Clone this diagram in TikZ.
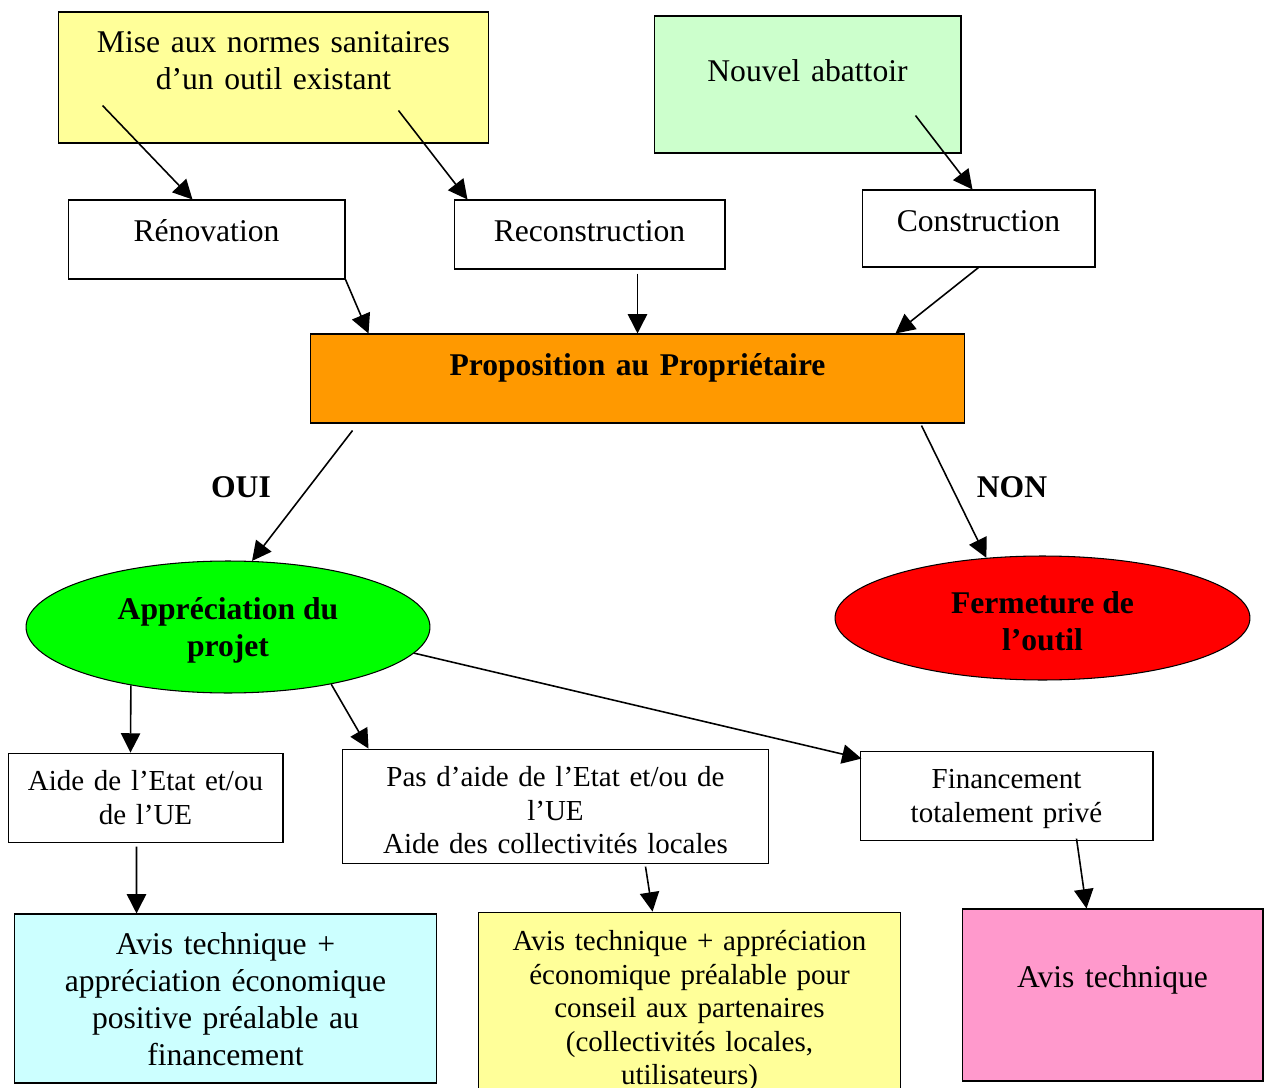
\documentclass[tikz,border=0pt]{standalone}
\usepackage{fontspec}
\setmainfont{Liberation Serif}
\usetikzlibrary{shapes.geometric,arrows.meta,calc}
\definecolor{paleyellow}{HTML}{FFFF99}
\definecolor{palegreen}{HTML}{CCFFCC}
\definecolor{propoorange}{HTML}{FF9900}
\definecolor{brightgreen}{HTML}{00FF00}
\definecolor{brightred}{HTML}{FF0000}
\definecolor{palecyan}{HTML}{CCFFFF}
\definecolor{palepink}{HTML}{FF99CC}
\begin{document}
\begin{tikzpicture}
	[x=0.02cm,y=-0.02cm,
	boxstyle/.style={draw=black,line width=0.6pt,inner sep=0pt,anchor=base,align=center,
font=\fontsize{18}{21}\selectfont},
	smallbox/.style={boxstyle,font=\fontsize{16.5}{19.1}\selectfont},
	ovalstyle/.style={ellipse,draw=black,line width=0.6pt,inner sep=0pt,align=center,
text height=1.32cm,font=\fontsize{18}{21}\selectfont\bfseries},
	textstyle/.style={inner sep=0pt,font=\fontsize{18}{21}\selectfont\bfseries},
	edgestyle/.style={-{Triangle[length=11pt,width=11pt]},line width=0.9pt}]
	\useasboundingbox (0,0) rectangle (1269,1088);
	\node at (273.5,52.5) (mise) [boxstyle,fill=paleyellow,text width=8.62cm,text height=0.81cm,text depth=1.81cm] {Mise aux normes sanitaires\\d’un outil existant};
	\node at (807.5,81.5) (nouvel) [boxstyle,fill=palegreen,text width=6.14cm,text height=1.31cm,text depth=1.43cm] {Nouvel abattoir};
	\node at (206.5,241.5) (renov) [boxstyle,text width=5.54cm,text height=0.83cm,text depth=0.75cm] {Rénovation};
	\node at (589.5,241.5) (recons) [boxstyle,text width=5.42cm,text height=0.83cm,text depth=0.55cm] {Reconstruction};
	\node at (978.5,231.5) (constr) [boxstyle,text width=4.66cm,text height=0.83cm,text depth=0.71cm] {Construction};
	\node at (637.5,375.5) (propo) [boxstyle,fill=propoorange,font=\fontsize{18}{21}\selectfont\bfseries,text width=13.1cm,text height=0.83cm,text depth=0.95cm] {Proposition au Propriétaire};
	\node at (241,487) (oui) [textstyle] {OUI};
	\node at (1012,487) (non) [textstyle] {NON};
	\node at (228,627) (appre) [ovalstyle,fill=brightgreen,minimum width=8.08cm,minimum height=2.64cm] {Appréciation du\\projet};
	\node at (1042.5,618) (ferme) [ovalstyle,fill=brightred,minimum width=8.3cm,minimum height=2.48cm] {Fermeture de\\l’outil};
	\node at (145.5,790.6) (aide) [smallbox,text width=5.5cm,text height=0.75cm,text depth=1.03cm] {Aide de l’Etat et/ou\\de l’UE};
	\node at (555.5,786.6) (pasaide) [smallbox,text width=8.54cm,text height=0.75cm,text depth=1.53cm] {Pas d’aide de l’Etat et/ou de\\l’UE\\Aide des collectivités locales};
	\node at (1006.5,788.6) (finan) [smallbox,text width=5.86cm,text height=0.75cm,text depth=1.03cm] {Financement\\totalement privé};
	\node at (225.5,954.5) (avis1) [boxstyle,fill=palecyan,text width=8.46cm,text height=0.81cm,text depth=2.57cm] {Avis technique +\\appréciation économique\\positive préalable au\\financement};
	\node at (689.5,950.6) (avis2) [smallbox,fill=paleyellow,text width=8.46cm,text height=0.77cm,text depth=2.99cm] {Avis technique + appréciation\\économique préalable pour\\conseil aux partenaires\\(collectivités locales,\\utilisateurs)};
	\node at (1112.5,987.5) (avis3) [boxstyle,fill=palepink,text width=6.02cm,text height=1.57cm,text depth=1.87cm] {Avis technique};
	\draw[edgestyle] ($(mise.south west)+(45,-38)$) -- ($(renov.north west)+(125,0)$);
	\draw[edgestyle] ($(mise.south east)+(-91,-33)$) -- ($(recons.north west)+(14,0)$);
	\draw[edgestyle] ($(nouvel.south east)+(-46,-38)$) -- ($(constr.north west)+(111,0)$);
	\draw[edgestyle] (renov.south east) -- ($(propo.north west)+(59,0)$);
	\draw[edgestyle] ($(propo.north |- recons.south)+(0,4)$) -- (propo.north);
	\draw[edgestyle] (constr.south) -- ($(propo.north east)+(-70,0)$);
	\draw[edgestyle] ($(propo.south west)+(43,7)$) -- (appre.70);
	\draw[edgestyle] ($(propo.south east)+(-44,2)$) -- (ferme.133);
	\draw[edgestyle] (appre.211) -- ($(aide.north west)+(123,0)$);
	\draw[edgestyle] (appre.-29) -- ($(pasaide.north west)+(27,0)$);
	\draw[edgestyle] (appre.-8) -- ($(finan.north west)+(2,8)$);
	\draw[edgestyle] ($(aide.south west)+(129,4)$) -- ($(avis1.north west)+(123,0)$);
	\draw[edgestyle] ($(pasaide.south west)+(304,3)$) -- ($(avis2.north west)+(175,0)$);
	\draw[edgestyle] ($(finan.south west)+(217,-2)$) -- ($(avis3.north west)+(125,0)$);
\end{tikzpicture}
\end{document}
